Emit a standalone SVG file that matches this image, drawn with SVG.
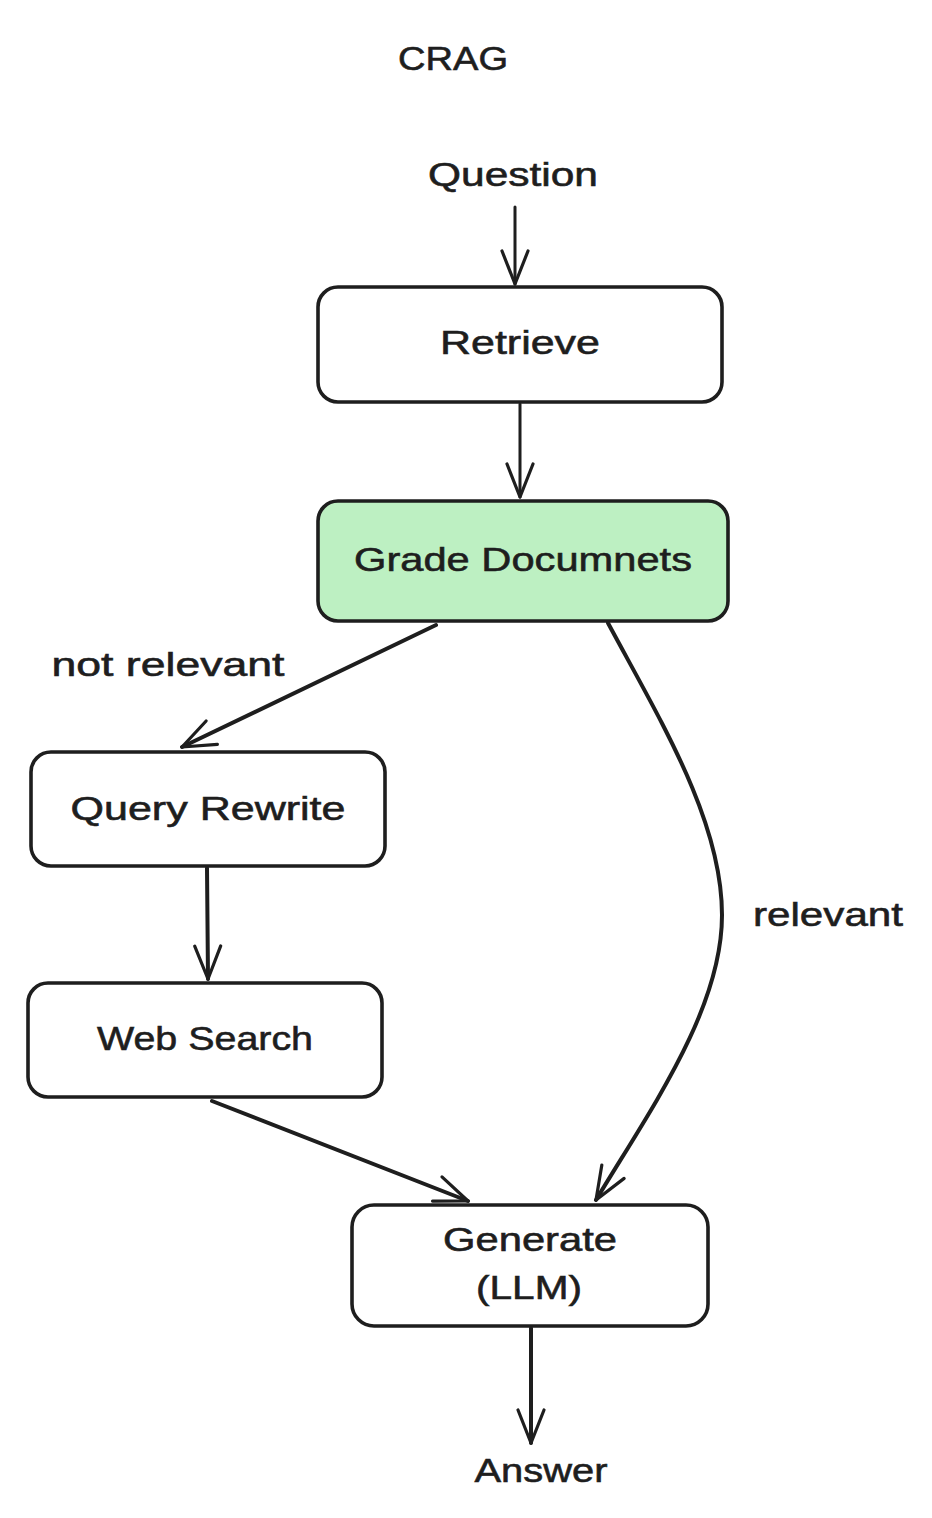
<svg xmlns="http://www.w3.org/2000/svg" width="932" height="1518" viewBox="0 0 932 1518">
<style>
.box{fill:#ffffff;stroke:#1e1e1e;stroke-width:3.6}
.green{fill:#bdf0c2}
.t{font-family:"Liberation Sans","Noto Sans",sans-serif;font-size:34px;fill:#1e1e1e;text-anchor:middle;stroke:#1e1e1e;stroke-width:0.6}
.c{fill:none;stroke:#1e1e1e;stroke-width:3;stroke-linecap:round}
.thick{stroke-width:4}
</style>
<defs>
<marker id="arr" viewBox="-36 -18 40 36" refX="0" refY="0" markerWidth="40" markerHeight="36" orient="auto" markerUnits="userSpaceOnUse">
<path d="M -33 -13 L 0 0 L -33 13" fill="none" stroke="#1e1e1e" stroke-width="3.2" stroke-linecap="round" stroke-linejoin="round"/>
</marker>
</defs>
<rect width="932" height="1518" fill="#ffffff"/>
<g id="title"><text class="t" x="453" y="70" textLength="110" lengthAdjust="spacingAndGlyphs">CRAG</text></g>
<g id="question"><text class="t" x="513" y="186" textLength="170" lengthAdjust="spacingAndGlyphs">Question</text></g>
<g id="retrieve">
<rect class="box" x="318" y="287" width="404" height="115" rx="20"/>
<text class="t" x="520" y="354" textLength="160" lengthAdjust="spacingAndGlyphs">Retrieve</text>
</g>
<g id="grade">
<rect class="box green" x="318" y="501" width="410" height="120" rx="20" stroke-width="4.2"/>
<text class="t" x="523" y="571" textLength="338" lengthAdjust="spacingAndGlyphs">Grade Documnets</text>
</g>
<g id="query-rewrite">
<rect class="box" x="31" y="752" width="354" height="114" rx="20"/>
<text class="t" x="208" y="820" textLength="275" lengthAdjust="spacingAndGlyphs">Query Rewrite</text>
</g>
<g id="web-search">
<rect class="box" x="28" y="983" width="354" height="114" rx="20"/>
<text class="t" x="205" y="1050" textLength="216" lengthAdjust="spacingAndGlyphs">Web Search</text>
</g>
<g id="generate">
<rect class="box" x="352" y="1205" width="356" height="121" rx="22"/>
<text class="t" x="530" y="1251" textLength="174" lengthAdjust="spacingAndGlyphs">Generate</text>
<text class="t" x="529" y="1299" textLength="106" lengthAdjust="spacingAndGlyphs">(LLM)</text>
</g>
<g id="answer"><text class="t" x="541" y="1482" textLength="133" lengthAdjust="spacingAndGlyphs">Answer</text></g>
<g id="labels">
<text class="t" x="168" y="676" textLength="233" lengthAdjust="spacingAndGlyphs">not relevant</text>
<text class="t" x="828" y="926" textLength="150" lengthAdjust="spacingAndGlyphs">relevant</text>
</g>
<g id="connectors">
<path class="c" d="M 515 207 L 515 284" marker-end="url(#arr)"/>
<path class="c" d="M 520 404 L 520 497" marker-end="url(#arr)"/>
<path class="c thick" d="M 436 625 L 182 747" marker-end="url(#arr)"/>
<path class="c thick" d="M 207 868 L 208 979" marker-end="url(#arr)"/>
<path class="c thick" d="M 212 1101 L 468 1201" marker-end="url(#arr)"/>
<path class="c thick" d="M 608 623 C 660 720 722 820 722 915 C 722 1010 650 1110 596 1200" marker-end="url(#arr)"/>
<path class="c thick" d="M 531 1328 L 531 1443" marker-end="url(#arr)"/>
</g>
</svg>
